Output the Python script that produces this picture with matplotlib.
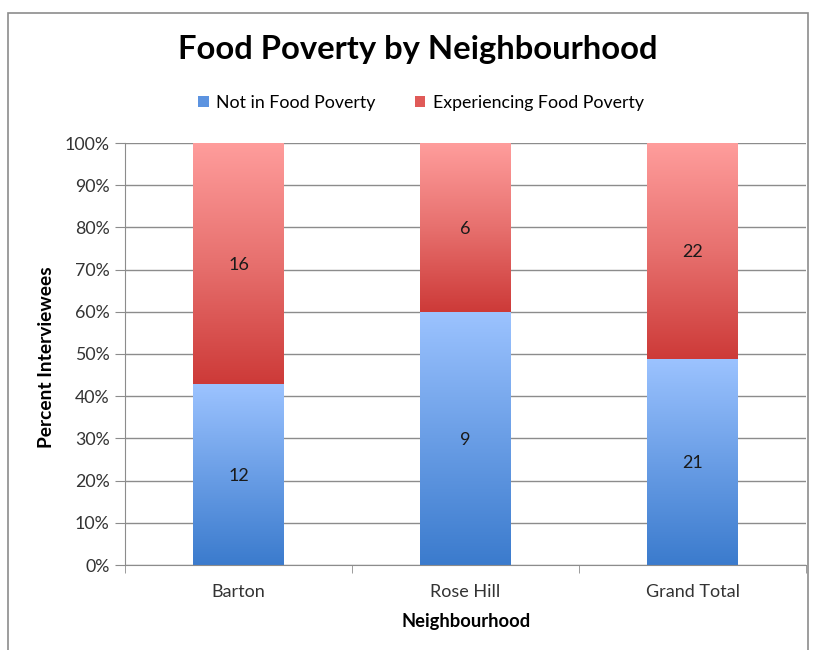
import numpy as np
import matplotlib
matplotlib.use("Agg")
import matplotlib.pyplot as plt
from matplotlib.colors import LinearSegmentedColormap
from matplotlib.patches import Rectangle

plt.rcParams['font.family'] = ['Lato', 'DejaVu Sans']

# --- data ---
categories = ["Barton", "Rose Hill", "Grand Total"]
not_in_poverty = [12, 9, 21]
experiencing_poverty = [16, 6, 22]
series_names = ["Not in Food Poverty", "Experiencing Food Poverty"]
y_ticks = [0, 10, 20, 30, 40, 50, 60, 70, 80, 90, 100]

totals = np.array(not_in_poverty) + np.array(experiencing_poverty)
pct_not = np.array(not_in_poverty) / totals * 100
pct_exp = np.array(experiencing_poverty) / totals * 100

blue_cmap = LinearSegmentedColormap.from_list("blue", ["#3b7bcd", "#6a9ee6", "#9cc3ff"])
red_cmap = LinearSegmentedColormap.from_list("red", ["#cd3a38", "#e7706e", "#ff9d9c"])

fig = plt.figure(figsize=(8.13, 6.5), dpi=100)
ax = fig.add_axes([125 / 813, 85 / 650, 681 / 813, 422 / 650])

# outer chart frame
fig.patches.append(Rectangle((8 / 813, -0.05), 800 / 813, 1.05 - 13 / 650,
                             transform=fig.transFigure, fill=False,
                             edgecolor="#8c8c8c", linewidth=1.2))

x = np.arange(len(categories))
width = 0.4
grad = np.linspace(0, 1, 256).reshape(-1, 1)


def gradient_bars(bars, cmap):
    for b in bars:
        b.set_facecolor("none")
        x0, y0 = b.get_x(), b.get_y()
        im = ax.imshow(grad, cmap=cmap, aspect="auto", origin="lower",
                       extent=[x0, x0 + b.get_width(), y0, y0 + b.get_height()],
                       zorder=2)
        im.set_clip_path(b)


bars1 = ax.bar(x, pct_not, width, color="#3b7bcd", zorder=2, linewidth=0,
               label=series_names[0])
bars2 = ax.bar(x, pct_exp, width, bottom=pct_not, color="#cd3a38", zorder=2,
               linewidth=0, label=series_names[1])
gradient_bars(bars1, blue_cmap)
gradient_bars(bars2, red_cmap)

for i in range(len(categories)):
    ax.text(x[i], pct_not[i] / 2, str(not_in_poverty[i]), ha="center",
            va="center_baseline", fontsize=13, color="#1a1a1a", zorder=3)
    ax.text(x[i], pct_not[i] + pct_exp[i] / 2, str(experiencing_poverty[i]),
            ha="center", va="center_baseline", fontsize=13, color="#1a1a1a",
            zorder=3)

ax.set_xlim(-0.5, len(categories) - 0.5)
ax.set_ylim(0, 100)
ax.set_yticks(y_ticks)
ax.set_yticklabels([f"{t}%" for t in y_ticks], fontsize=12.8, color="#333333")
ax.yaxis.grid(True, color="#8c8c8c", linewidth=1, zorder=0)
ax.set_axisbelow(True)

ax.set_xticks(x)
ax.set_xticklabels(categories, fontsize=13, color="#333333")
ax.tick_params(axis="x", length=0, pad=14)
ax.set_xticks(np.arange(len(categories) + 1) - 0.5, minor=True)
ax.tick_params(axis="x", which="minor", length=6, color="#8c8c8c")
ax.tick_params(axis="y", length=7, color="#8c8c8c", pad=4)

for s in ["top", "right"]:
    ax.spines[s].set_visible(False)
ax.spines["left"].set_color("#8c8c8c")
ax.spines["bottom"].set_color("#8c8c8c")

fig.text(466 / 813, 1 - 622 / 650, "Neighbourhood", ha="center", va="center",
         fontsize=13.2, fontweight="bold")
fig.text(47 / 813, 1 - 357 / 650, "Percent Interviewees", ha="center",
         va="center", rotation=90, fontsize=13.8, fontweight="bold")

fig.text(418 / 813, 1 - 50 / 650, "Food Poverty by Neighbourhood", ha="center",
         va="center", fontsize=23.6, fontweight="bold")

leg = fig.legend(handles=[bars1, bars2], labels=series_names, loc="center",
                 bbox_to_anchor=(421 / 813, 1 - 103 / 650), ncol=2, frameon=False,
                 fontsize=12.8, handlelength=0.6, handleheight=0.6,
                 handletextpad=0.4, columnspacing=2.2)
for h, c in zip(leg.legend_handles, ["#5c93e0", "#e05a58"]):
    h.set_facecolor(c)

fig.savefig("out.png", dpi=100)
